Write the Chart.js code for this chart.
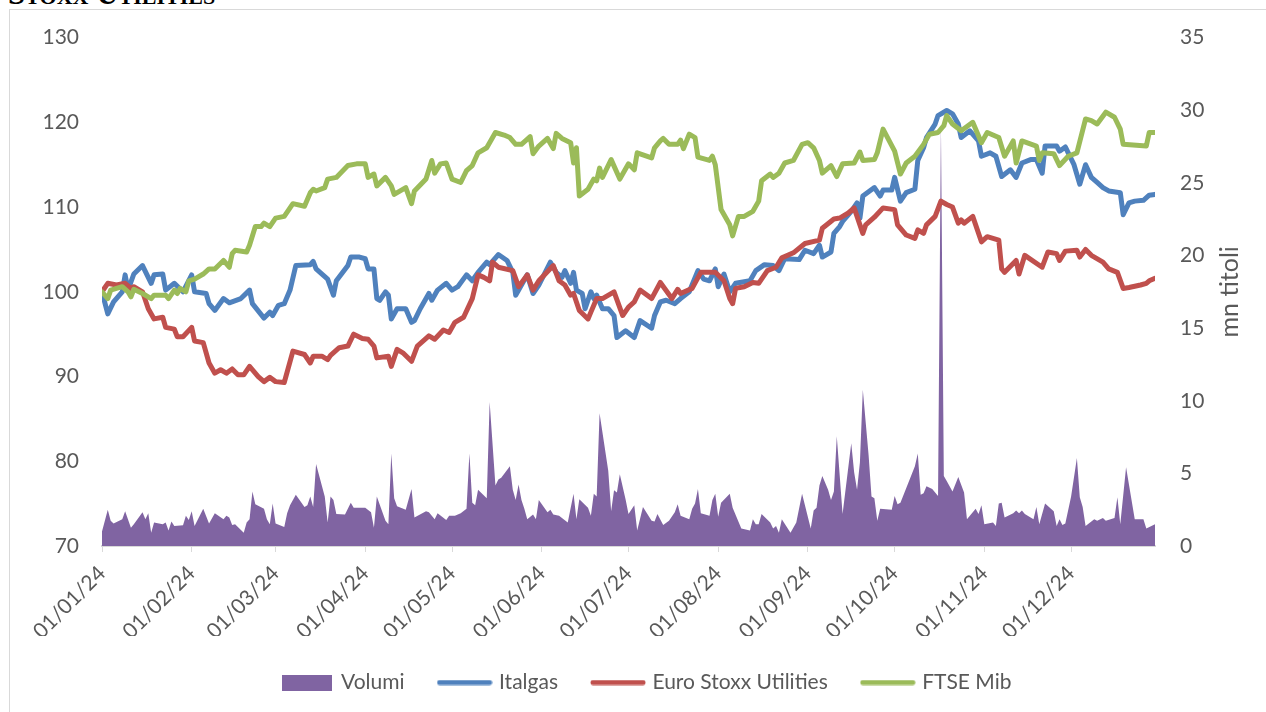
<!DOCTYPE html>
<html>
<head>
<meta charset="utf-8">
<script src="https://cdn.jsdelivr.net/npm/chart.js@4.4.1/dist/chart.umd.min.js"></script>
<style>
  html, body { margin: 0; padding: 0; background: #fff; }
  body { width: 1266px; height: 712px; position: relative; overflow: hidden; }
  #heading { position: absolute; left: 8px; top: -22px; font: bold 31px/31px "Liberation Serif", serif; font-variant: small-caps; color: #000; white-space: nowrap; }
  #frame { position: absolute; left: 9px; top: 9px; width: 1300px; height: 760px; border: 1px solid #D9D9D9; box-sizing: border-box; }
  #chart { position: absolute; left: 0; top: 0; }
</style>
</head>
<body>
<div id="heading">Stoxx Utilities</div>
<div id="frame"></div>
<canvas id="chart" width="1266" height="712"></canvas>
<script>
// Day of year 2024 (0 = 01/01/24) for each reading
const monthTickDays = [0, 31, 60, 91, 121, 152, 182, 213, 244, 274, 305, 335];
const monthLabels = ['01/01/24', '01/02/24', '01/03/24', '01/04/24', '01/05/24', '01/06/24',
                     '01/07/24', '01/08/24', '01/09/24', '01/10/24', '01/11/24', '01/12/24'];

const italgasDays = [0,2,4,7,8,9,11,14,17,18,21,22,25,28,31,32,36,37,39,42,44,48,51,52,56,58,59,61,63,65,67,72,73,74,78,80,81,85,86,89,91,92,94,95,96,98,99,100,102,105,107,108,110,113,114,116,119,121,123,126,128,130,133,134,137,140,142,143,145,147,149,151,155,157,159,160,162,163,164,166,167,169,170,171,173,175,177,178,181,184,186,190,191,193,195,198,200,203,206,208,210,212,213,215,217,219,224,226,229,232,234,236,241,243,246,248,249,252,253,255,256,259,261,262,263,267,269,270,273,274,276,278,281,282,284,285,288,289,292,294,296,297,300,303,304,307,309,311,314,316,318,321,323,325,326,330,331,333,334,336,338,340,342,344,346,348,352,353,355,357,360,362,364];
const italgas = [100,97.4,98.8,100,102,100.2,102.1,103.1,101,102,102.1,100.2,101,100,102,100,99.8,98.6,97.8,99.2,98.7,99.2,100.2,98.6,96.9,97.6,97.2,98.4,98.6,100.2,103.1,103.2,103.6,102.7,101.5,99.6,101.3,103.1,104.1,104.1,103.9,102.7,102.7,99.2,99,100,99.6,96.8,98,98,96.4,96.6,98,99.8,99,100.2,101,100.2,100.6,102,101.3,102.3,103.5,103.2,104.4,103.7,102.3,99.6,100.8,102,99.8,100.8,103.5,102.3,101.7,102.5,101,102.3,100.2,99.8,98,100,99.2,99.6,98,98,97.2,94.6,95.4,94.6,96.6,95.7,97.2,98.8,99,98.6,99.2,100,102.5,101.5,101.3,102.7,100.6,102.1,100,101,101.3,102.5,103.2,103.1,102.5,103.9,103.8,104.9,104.5,105.5,104.1,104.7,106.9,107.7,108.3,109.5,110.5,108.7,111.3,112.3,111.3,112,112,113.5,110.7,111.7,112.1,115.5,117,118.2,119.8,120.8,121.4,121,119.8,118.2,119,117.8,116,116.4,116,113.6,114.4,113.5,115.2,115.6,115.6,114,117.2,117.2,116.6,117.1,116.4,115,112.7,115,113.5,112.9,112.3,111.9,111.7,109.1,110.5,110.7,110.8,111.4,111.5];

const stoxxDays = [0,2,5,8,10,11,14,16,18,21,22,25,26,28,31,32,35,37,39,41,43,45,47,49,51,54,56,58,60,63,66,70,72,73,76,78,79,82,85,87,90,92,94,95,99,100,102,104,107,109,113,115,118,120,122,125,128,130,132,134,135,137,142,144,147,149,151,156,158,160,162,163,165,168,169,171,173,177,180,182,184,186,190,193,197,199,200,204,207,212,215,217,218,219,222,225,227,230,233,235,239,243,248,249,253,255,258,260,263,264,267,270,274,275,278,281,282,284,285,288,290,292,294,296,297,298,301,304,306,310,311,312,316,317,319,325,327,330,331,333,337,338,340,342,346,348,351,353,355,359,361,362,364];
const stoxx = [100,101,100.8,101,100.4,100.6,100,98,96.8,97,95.8,95.6,94.7,94.7,95.8,94.2,94,91.6,90.4,90.8,90.4,90.9,90.2,90.2,91.2,90,89.4,89.9,89.4,89.3,93,92.6,91.6,92.4,92.4,92,92.5,93.4,93.6,95,94.5,94.4,93.6,92.2,92.4,91.2,93.2,92.8,91.8,93.6,94.8,94.4,95.5,95.2,96.4,97,99.2,102,101.7,101.3,103.5,102.9,102.5,100.6,102,100.2,101.3,103.1,101.3,100.8,99.6,99.8,97.8,96.8,97.6,99.2,99.2,100,97.2,98.2,98.8,100.2,99.2,101.1,99.2,100.3,99.8,100.4,102.3,102.3,101.3,99.2,98.6,100.4,100.6,101.1,101,102.5,102.9,104,104.6,105.7,106.1,107.5,108.6,108.7,109.3,109.9,106.9,107.9,108.8,109.9,109.7,107.9,106.7,106.3,107.3,106.9,107.9,108.9,110.7,110.3,110,108.1,108.5,108.1,108.9,105.9,106.5,106.1,102.7,102.3,103.7,102.1,104.3,102.9,104.7,104.5,103.7,104.8,104.9,104.1,105,104.3,103.5,102.7,102.3,100.4,100.5,100.8,101,101.3,101.6];

const ftseDays = [0,2,3,7,9,10,11,14,17,18,22,23,25,26,27,29,30,32,35,37,39,42,44,45,46,50,51,53,55,56,58,60,63,65,66,70,72,73,74,77,78,81,85,88,91,92,94,95,98,100,101,105,107,108,112,114,115,117,119,121,124,126,128,130,133,136,139,141,143,145,148,149,151,154,156,157,159,162,163,164,165,168,170,171,172,173,176,179,182,184,185,190,191,193,194,196,199,200,201,203,205,206,210,211,212,214,217,218,220,222,225,227,228,231,232,234,236,239,242,244,246,248,249,252,254,256,260,262,263,267,268,270,274,276,278,281,284,286,289,291,292,294,297,301,304,306,310,312,315,316,318,323,324,325,329,331,334,337,340,342,344,347,350,352,353,361,362,364];
const ftse = [100,99.2,100.2,100.6,100,99.4,100.3,99.8,99.2,99.6,99.6,99.2,100.2,99.8,100.4,100,101.3,101.5,102.1,102.7,102.7,103.7,102.9,104.5,104.9,104.7,105.5,107.7,107.7,108.1,107.7,108.7,108.9,109.9,110.4,110.1,111.7,112.1,111.9,112.3,113.3,113.5,114.9,115.1,115.1,113.5,113.9,112.5,113.5,112.5,111.5,112.3,110.4,111.9,113.3,115.5,114,115.1,115.2,113.3,112.9,114.3,114.9,116.4,117,118.8,118.5,118.2,117.4,117.4,118.3,116.3,117.2,118.1,116.9,118.7,118.1,117.6,115.2,117,111.3,112.1,113.3,113.1,114.6,113.5,115.6,113.3,115.1,114.4,116.4,115.8,117,117.8,118.1,117.4,117.4,117.9,116.9,118.6,118.2,115.9,115.5,116,115,109.7,107.9,106.6,108.9,108.9,109.5,110.7,113.1,113.9,113.5,114,115.2,115.5,117.4,117.6,117,115.5,114,114.9,113.6,115.1,115.2,116.5,115.5,115.6,116.4,119.2,116.6,113.9,115.2,116,117.4,118.6,118.8,119.6,120.8,119.8,119,120,117.6,118.8,118.2,116,117.8,115.2,117.8,117.2,115.5,116.4,116.3,114.9,116,116.4,120.4,120.2,119.8,121.2,120.6,119.2,117.4,117.2,118.8,118.8];

const volumeDays = [0,2,3,4,7,8,10,11,14,15,16,17,18,21,22,23,24,25,28,29,30,31,32,35,37,39,42,43,44,45,46,49,50,51,52,53,56,57,58,59,60,63,64,65,67,70,71,72,73,74,77,78,79,80,81,84,86,87,91,93,94,95,98,99,100,101,102,105,107,108,112,113,115,116,119,120,122,124,126,127,128,129,130,133,134,136,137,138,141,142,143,144,145,146,147,149,150,151,154,155,156,158,161,163,164,165,168,169,170,171,172,175,176,177,178,179,181,182,184,185,187,190,191,192,194,196,198,199,200,203,204,205,206,207,210,211,212,213,214,217,218,221,224,225,226,227,228,231,232,233,234,235,238,240,242,245,246,247,248,249,251,252,253,254,256,259,260,261,262,263,265,266,267,268,269,273,274,275,276,281,282,283,284,285,287,289,290,291,292,294,296,298,299,301,302,303,304,305,308,309,310,311,312,315,316,317,318,319,322,323,324,326,329,330,331,332,333,335,337,338,339,340,343,344,346,347,350,351,352,354,357,360,361,364];
const volumi = [1.0,2.5,1.74,1.55,1.85,2.4,1.26,1.5,2.33,1.85,2.26,0.91,1.62,1.5,1.62,1.07,1.69,1.38,1.42,2.09,1.79,2.4,1.38,2.57,1.55,2.26,1.85,2.09,1.97,1.45,1.5,0.91,1.62,1.85,3.75,2.87,2.57,1.85,1.5,2.92,1.55,1.31,2.26,2.8,3.52,2.68,2.8,3.4,2.68,5.65,3.4,1.62,3.4,3.16,2.21,2.16,2.97,2.64,2.64,2.33,1.26,3.4,1.74,1.5,6.36,3.28,2.73,2.5,3.92,1.97,2.4,2.33,1.85,2.26,1.79,2.09,2.09,2.26,2.57,6.36,2.97,2.8,3.88,3.28,9.92,4.16,4.58,4.7,5.49,3.88,3.16,4.23,3.16,2.57,1.85,2.16,1.85,3.16,2.33,2.5,2.16,2.09,1.62,3.59,1.85,3.21,2.64,2.09,3.59,3.4,9.14,5.18,2.4,3.83,3.69,4.94,3.2,2.21,2.8,1.07,2.68,1.74,1.69,2.21,1.45,1.74,2.33,2.87,2.09,1.85,2.57,2.92,3.92,2.26,2.09,3.16,3.59,2.02,2.97,3.59,2.64,1.21,1.07,1.85,1.5,1.5,2.21,1.62,1.21,1.38,0.91,1.85,0.91,1.62,3.59,1.21,2.45,2.64,4.16,4.82,3.88,3.16,3.76,7.55,2.21,7.08,5.07,3.88,5.77,10.75,6.25,3.4,3.28,1.74,2.57,2.5,3.45,2.87,2.97,5.49,6.36,3.52,3.64,4.11,3.92,3.45,29,4.82,4.47,3.76,4.75,3.69,1.85,2.33,2.57,2.21,2.8,1.5,1.62,1.38,2.92,2.97,1.97,2.26,2.45,2.26,2.45,2.21,1.85,2.68,1.5,2.92,2.4,1.38,1.85,1.45,1.55,3.4,6.06,3.35,2.68,1.38,1.85,1.74,1.92,1.74,1.92,3.35,1.5,5.42,1.85,1.85,1.21,1.5];

const seriesNames = ['Volumi', 'Italgas', 'Euro Stoxx Utilities', 'FTSE Mib'];
const rightAxisTitle = 'mn titoli';

const textColor = '#595959';
const tickFont = { family: 'Lato', size: 21 };

function points(days, values) {
    return days.map((d, i) => ({ x: d, y: values[i] }));
}

// legend swatches, drawn once
function legendIcon(kind, color) {
    const c = document.createElement('canvas');
    const g = c.getContext('2d');
    if (kind === 'box') {
        c.width = 50; c.height = 16;
        g.fillStyle = color;
        g.fillRect(0, 0, 50, 16);
    } else {
        c.width = 56; c.height = 6;
        g.strokeStyle = color;
        g.lineWidth = 5;
        g.lineCap = 'round';
        g.beginPath();
        g.moveTo(3, 3);
        g.lineTo(53, 3);
        g.stroke();
    }
    return c;
}

function lineSet(label, days, values, color, order) {
    return {
        label: label,
        data: points(days, values),
        yAxisID: 'y',
        borderColor: color,
        backgroundColor: color,
        borderWidth: 5,
        borderJoinStyle: 'round',
        borderCapStyle: 'round',
        pointRadius: 0,
        pointStyle: legendIcon('line', color),
        tension: 0,
        fill: false,
        order: order
    };
}

const rightTitlePlugin = {
    id: 'rightTitle',
    afterDraw(chart) {
        const ctx = chart.ctx;
        const s = chart.scales.y1;
        ctx.save();
        ctx.translate(s.left + 75, s.getPixelForValue(17.5));
        ctx.rotate(-Math.PI / 2);
        ctx.fillStyle = textColor;
        ctx.font = '25px Lato';
        ctx.textAlign = 'center';
        ctx.textBaseline = 'middle';
        ctx.fillText(rightAxisTitle, 0, 0);
        ctx.restore();
    }
};

const ctx = document.getElementById('chart').getContext('2d');
new Chart(ctx, {
    type: 'line',
    data: {
        datasets: [
            {
                label: seriesNames[0],
                data: points(volumeDays, volumi),
                yAxisID: 'y1',
                borderWidth: 0,
                borderColor: '#8064A2',
                backgroundColor: '#8064A2',
                pointRadius: 0,
                pointStyle: legendIcon('box', '#8064A2'),
                tension: 0,
                fill: 'origin',
                order: 4
            },
            lineSet(seriesNames[1], italgasDays, italgas, '#4F81BD', 3),
            lineSet(seriesNames[2], stoxxDays, stoxx, '#C0504D', 2),
            lineSet(seriesNames[3], ftseDays, ftse, '#9BBB59', 1)
        ]
    },
    options: {
        responsive: false,
        animation: false,
        layout: { padding: { top: 37, left: 28, right: 0, bottom: 9 } },
        plugins: {
            tooltip: { enabled: false },
            legend: {
                position: 'bottom',
                labels: {
                    usePointStyle: true,
                    pointStyleWidth: 48,
                    padding: 36,
                    color: textColor,
                    font: tickFont,
                    sort: (a, b) => a.datasetIndex - b.datasetIndex
                }
            }
        },
        scales: {
            x: {
                type: 'linear',
                min: 0,
                max: 364,
                afterBuildTicks: scale => { scale.ticks = monthTickDays.map(v => ({ value: v })); },
                afterFit: scale => { scale.height = 90; },
                ticks: {
                    autoSkip: false,
                    minRotation: 45,
                    maxRotation: 45,
                    padding: 9,
                    color: textColor,
                    font: tickFont,
                    callback: value => monthLabels[monthTickDays.indexOf(value)]
                },
                grid: { display: true, drawOnChartArea: false, drawTicks: true, tickLength: 6, color: '#D9D9D9' },
                border: { display: true, color: '#D9D9D9', width: 2 }
            },
            y: {
                position: 'left',
                min: 70,
                max: 130,
                afterFit: scale => { scale.width = 74; },
                ticks: { stepSize: 10, padding: 23, color: textColor, font: tickFont },
                grid: { display: false, drawTicks: false },
                border: { display: false }
            },
            y1: {
                position: 'right',
                min: 0,
                max: 35,
                afterFit: scale => { scale.width = 111; },
                ticks: { stepSize: 5, padding: 25, color: textColor, font: tickFont },
                grid: { display: false, drawTicks: false },
                border: { display: false }
            }
        }
    },
    plugins: [rightTitlePlugin]
});
</script>
</body>
</html>
